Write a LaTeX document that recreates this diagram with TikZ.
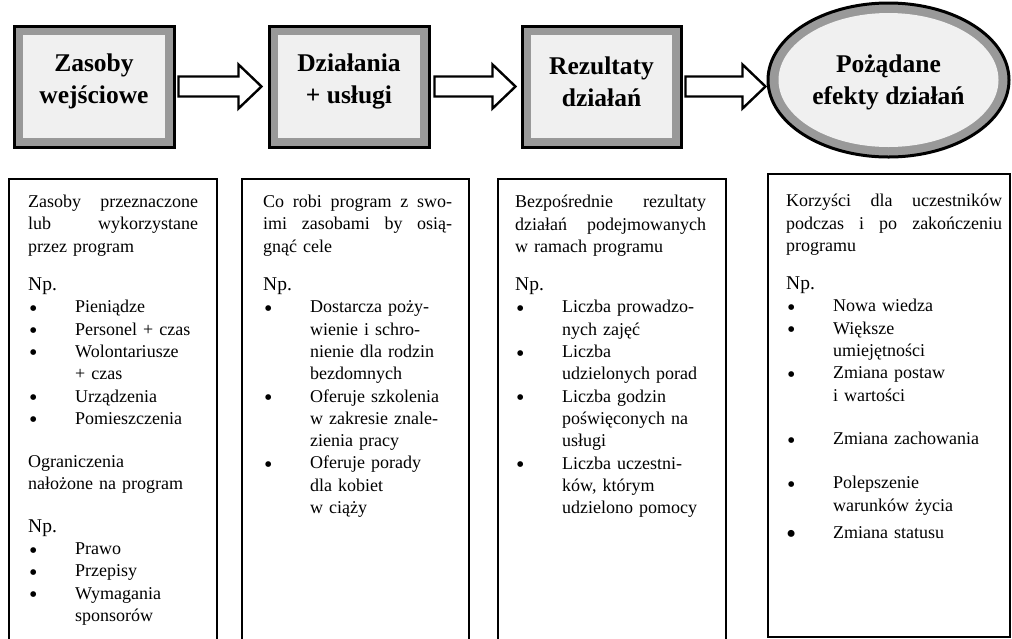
\documentclass[tikz,border=0pt]{standalone}
\usepackage{fontspec}
\setmainfont{Liberation Serif}
\usetikzlibrary{shapes.geometric,calc}

% list helpers: bullet item, continuation line, justified line of given width
\newcommand{\itm}[1]{\makebox[47pt][l]{\hspace{1pt}\raisebox{-3.5pt}{\fontsize{24}{20}\selectfont•}}#1}
\newcommand{\bigitm}[1]{\makebox[47pt][l]{\hspace{0pt}\raisebox{-5pt}{\fontsize{29}{20}\selectfont•}}#1}
\newcommand{\cnt}[1]{\hspace*{47pt}#1}
\newcommand{\jline}[2]{\leavevmode\hbox to #1{#2}}
\newcommand{\np}{{\fontsize{19.5}{22}\selectfont Np.}}

\definecolor{stipple}{gray}{0.6}
\definecolor{stipplein}{gray}{0.94}

\begin{document}
\begin{tikzpicture}[x=1pt,y=-1pt,
  headbox/.style={rectangle, draw=black, line width=3pt, fill=stipple,
    inner sep=0pt, minimum width=160pt, minimum height=121pt,
    path picture={\fill[stipplein]
      ([shift={(9pt,-9pt)}]path picture bounding box.north west) rectangle
      ([shift={(-9pt,9pt)}]path picture bounding box.south east);}},
  goalbox/.style={ellipse, draw=black, line width=3pt, fill=stipple,
    inner sep=0pt, minimum width=241pt, minimum height=154pt,
    path picture={\fill[stipplein] (path picture bounding box.center)
      ellipse [x radius=110pt, y radius=67pt];}},
  headtext/.style={inner sep=0pt, align=center,
    font=\fontsize{25.5}{32}\selectfont\bfseries},
  fatarrow/.style={draw=black, line width=2.4pt, fill=white, line join=miter},
  colbox/.style={rectangle, draw=black, line width=2pt, inner sep=0pt,
    anchor=north west},
  coltext/.style={anchor=north west, inner sep=0pt, align=left,
    font=\fontsize{18}{22.3}\selectfont},
]
\clip (0,0) rectangle (1012,638);
\fill[white] (0,0) rectangle (1012,638);

% header row
\node[headbox] (hA) at (94,86.5) {};
\node[headbox] (hB) at (349,86.5) {};
\node[headbox, minimum width=159pt] (hC) at (601.5,86.5) {};
\node[goalbox] (hD) at (888.5,80) {};
\node[headtext] (hAt) at ([yshift=5pt]hA.center) {Zasoby\\wejściowe};
\node[headtext] (hBt) at ([yshift=5pt]hB.center) {Działania\\+ usługi};
\node[headtext] (hCt) at ([yshift=5pt]hC.center) {Rezultaty\\działań};
\node[headtext] (hDt) at ([yshift=-2pt]hD.center) {Pożądane\\efekty działań};

% block arrows between the header shapes
\newcommand{\blockarrow}[2]{%
  \draw[fatarrow] ($(#1)+(0,-10)$) -- ($(#2)+(-23,-10)$) -- ($(#2)+(-23,-22)$)
    -- (#2) -- ($(#2)+(-23,22)$) -- ($(#2)+(-23,10)$) -- ($(#1)+(0,10)$) -- cycle;}
\coordinate (a1s) at ($(hA.east)+(3,0)$);
\coordinate (a1e) at ($(hB.west)+(-6,0)$);
\coordinate (a2s) at ($(hB.east)+(4,0)$);
\coordinate (a2e) at ($(hC.west)+(-5,0)$);
\coordinate (a3s) at ($(hC.east)+(3,0)$);
\coordinate (a3e) at ($(hD.west |- hC.east)+(-1,0)$);
\blockarrow{a1s}{a1e}
\blockarrow{a2s}{a2e}
\blockarrow{a3s}{a3e}

% description columns
\node[colbox, minimum width=208pt, minimum height=480pt] (bA) at (8,178) {};
\node[colbox, minimum width=227pt, minimum height=480pt] (bB) at (241,178) {};
\node[colbox, minimum width=228pt, minimum height=480pt] (bC) at (497,178) {};
\node[colbox, minimum width=242pt, minimum height=463pt] (bD) at (767,173) {};

\node[coltext, text width=170pt] (tA) at ([shift={(20pt,-17pt)}]bA.north west) {%
\jline{170pt}{Zasoby\hfill przeznaczone}\\
\jline{170pt}{lub\hfill wykorzystane}\\
przez program\\[16pt]
\np\\
\itm{Pieniądze}\\
\itm{Personel + czas}\\
\itm{Wolontariusze}\\
\cnt{+ czas}\\
\itm{Urządzenia}\\
\itm{Pomieszczenia}\\[21pt]
Ograniczenia\\
nałożone na program\\[20pt]
\np\\
\itm{Prawo}\\
\itm{Przepisy}\\
\itm{Wymagania}\\
\cnt{sponsorów}};

\node[coltext, text width=189pt] (tB) at ([shift={(22pt,-17pt)}]bB.north west) {%
\jline{189pt}{Co\hfill robi\hfill program\hfill z\hfill swo-}\\
\jline{189pt}{imi\hfill zasobami\hfill by\hfill osią-}\\
gnąć cele\\[16pt]
\np\\
\itm{Dostarcza poży-}\\
\cnt{wienie i schro-}\\
\cnt{nienie dla rodzin}\\
\cnt{bezdomnych}\\
\itm{Oferuje szkolenia}\\
\cnt{w zakresie znale-}\\
\cnt{zienia pracy}\\
\itm{Oferuje porady}\\
\cnt{dla kobiet}\\
\cnt{w ciąży}};

\node[coltext, text width=191pt] (tC) at ([shift={(18pt,-17pt)}]bC.north west) {%
\jline{191pt}{Bezpośrednie\hfill rezultaty}\\
\jline{191pt}{działań\hfill podejmowanych}\\
w ramach programu\\[16pt]
\np\\
\itm{Liczba prowadzo-}\\
\cnt{nych zajęć}\\
\itm{Liczba}\\
\cnt{udzielonych porad}\\
\itm{Liczba godzin}\\
\cnt{poświęconych na}\\
\cnt{usługi}\\
\itm{Liczba uczestni-}\\
\cnt{ków, którym}\\
\cnt{udzielono pomocy}};

\node[coltext, text width=216pt] (tD) at ([shift={(19pt,-21pt)}]bD.north west) {%
\jline{216pt}{Korzyści\hfill dla\hfill uczestników}\\
\jline{216pt}{podczas\hfill i\hfill po\hfill zakończeniu}\\
programu\\[16pt]
\np\\
\itm{Nowa wiedza}\\
\itm{Większe}\\
\cnt{umiejętności}\\
\itm{Zmiana postaw}\\
\cnt{i wartości}\\[21.5pt]
\itm{Zmiana zachowania}\\[21.5pt]
\itm{Polepszenie}\\
\cnt{warunków życia}\\[5.5pt]
\bigitm{Zmiana statusu}};
\end{tikzpicture}
\end{document}
